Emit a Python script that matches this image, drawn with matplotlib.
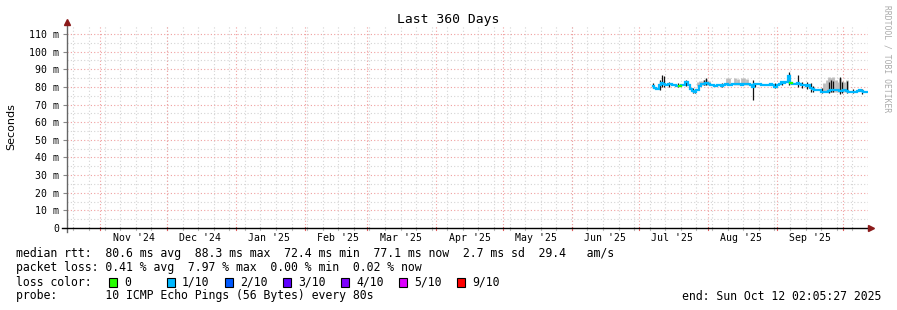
import numpy as np
import matplotlib
matplotlib.use("Agg")
from matplotlib import pyplot as plt
from matplotlib.lines import Line2D
from matplotlib.patches import Rectangle
import matplotlib.dates as mdates
from datetime import datetime, timedelta

# time window of the graph
t_start = datetime(2024, 10, 17, 2, 5, 27)
t_end = datetime(2025, 10, 12, 2, 5, 27)
data_start = datetime(2025, 7, 7, 12, 0)

# daily median rtt (ms)
median_ms = [80.5, 79.5, 79.0, 81.0, 82.0, 81.5, 81.0, 81.5, 81.5, 81.0,
             81.0, 80.5, 80.5, 81.0, 81.0, 83.0, 81.0, 79.0, 77.5, 77.0,
             78.0, 80.5, 81.5, 81.5, 82.0, 81.5, 81.0, 81.0, 80.5, 81.0,
             81.0, 80.5, 81.0, 81.5, 81.0, 81.0, 81.5, 81.5, 81.5, 81.5,
             81.0, 81.5, 81.5, 81.5, 81.0, 80.0, 81.5, 81.5, 81.5, 81.0,
             81.0, 81.0, 81.0, 81.5, 81.0, 80.0, 81.0, 81.5, 82.5, 82.0,
             83.0, 86.0, 82.0, 81.5, 81.5, 82.0, 81.5, 81.0, 81.0, 80.5,
             81.0, 79.5, 79.0, 78.5, 78.0, 78.0, 77.0, 77.0, 77.0, 77.5,
             78.0, 78.0, 78.5, 78.0, 77.5, 77.5, 78.0, 77.5, 77.0, 77.0,
             77.0, 77.0, 77.5, 78.5, 77.5, 77.0, 77.1]
# days with zero loss (green median)
zero_loss_days = [12, 62]

# dark smoke spikes: day index, low, high (ms)
spike_day = [0, 3, 4, 5, 7, 11, 15, 18, 19, 23, 24, 31, 45, 46, 55, 58, 61,
             65, 67, 69, 71, 72, 76, 79, 80, 81, 84, 85, 87, 90, 94]
spike_lo = [79.5, 78.0, 80.0, 80.0, 80.0, 80.0, 80.5, 76.5, 76.5, 81.0, 81.0,
            80.0, 72.4, 80.0, 79.5, 81.0, 81.0, 80.0, 79.5, 79.0, 77.0, 77.0,
            76.5, 76.5, 77.0, 77.0, 76.0, 76.5, 76.5, 76.5, 76.0]
spike_hi = [82.0, 84.0, 87.0, 86.0, 82.5, 82.0, 84.0, 79.5, 78.5, 84.0, 85.0,
            82.0, 84.0, 82.0, 82.0, 83.0, 88.3, 86.5, 83.0, 82.5, 82.0, 80.5,
            79.5, 83.0, 84.0, 83.5, 85.6, 82.5, 83.5, 79.0, 79.0]

# light smoke: day index, low, high (ms)
smoke_day = [20, 21, 22, 23, 24, 25, 33, 34, 37, 38, 40, 41, 42,
             77, 78, 79, 80, 81, 82, 83, 84, 85, 86, 87]
smoke_lo = [80.5, 80.5, 81.0, 81.0, 81.0, 81.0, 81.0, 81.0, 81.0, 81.0, 81.0,
            81.0, 81.0, 77.0, 77.0, 77.0, 77.0, 77.0, 77.0, 77.0, 77.0, 77.0,
            77.0, 77.0]
smoke_hi = [83.0, 83.5, 83.5, 84.0, 84.5, 83.5, 85.0, 85.0, 85.0, 84.5, 85.0,
            85.0, 84.5, 82.0, 84.0, 85.5, 85.0, 85.5, 84.0, 83.0, 85.0, 83.5,
            83.0, 84.0]

loss_labels = ["0", "1/10", "2/10", "3/10", "4/10", "5/10", "9/10"]
loss_colors = ["#26ff00", "#00b8ff", "#0059ff", "#5e00ff", "#7e00ff",
               "#dd00ff", "#ff0000"]

W, H = 897, 310
mono = "DejaVu Sans Mono"


def fx(px):
    return px / W


def fy(py):
    return 1 - py / H


fig = plt.figure(figsize=(8.97, 3.10), dpi=100)
ax = fig.add_axes([fx(67), fy(228), (868 - 67) / W, (228 - 26) / H])

days = [data_start + timedelta(days=i) for i in range(len(median_ms))]
x = mdates.date2num(days)
ymax = 114.5

# grid
month_starts = [datetime(2024, m, 1) for m in (11, 12)] + \
               [datetime(2025, m, 1) for m in range(1, 11)]
weeks = []
d = datetime(2024, 10, 20)
while d < t_end:
    weeks.append(d)
    d += timedelta(days=7)
for w in weeks:
    ax.axvline(w, color="#d4d4d4", lw=0.8, ls=(0, (1, 2)), zorder=0)
for yv in np.arange(5, 115, 10):
    ax.axhline(yv, color="#d4d4d4", lw=0.8, ls=(0, (1, 2)), zorder=0)
for m in month_starts:
    ax.axvline(m, color="#f0a0a0", lw=0.8, ls=(0, (1, 2)), zorder=0.5)
for yv in np.arange(10, 115, 10):
    ax.axhline(yv, color="#f0a0a0", lw=0.8, ls=(0, (1, 2)), zorder=0.5)

# smoke and median
ax.vlines(x[smoke_day], smoke_lo, smoke_hi, color="#bdbdbd", lw=2.0, zorder=2)
ax.vlines(x[spike_day], spike_lo, spike_hi, color="#111111", lw=0.9, zorder=3)
ax.plot(x, median_ms, color=loss_colors[1], lw=1.6, drawstyle="steps-mid",
        zorder=4, solid_joinstyle="miter")
for i in zero_loss_days:
    ax.plot([x[i] - 0.5, x[i] + 0.5], [median_ms[i]] * 2,
            color=loss_colors[0], lw=1.6, zorder=5)

ax.set_xlim(t_start, t_end)
ax.set_ylim(0, ymax)
for s in ax.spines.values():
    s.set_visible(False)

yt = np.arange(0, 111, 10)
ax.set_yticks(yt)
ax.set_yticklabels(["0"] + ["%d m" % v for v in yt[1:]], fontfamily=mono,
                   fontsize=7.1)
ax.tick_params(axis="y", length=3, width=0.8, color="#888888", pad=2.5)
ax.set_xticks([])

# month labels centred on the 16th
for m in month_starts[:-1]:
    mid = m.replace(day=16)
    ax.text(mid, -0.048, m.strftime("%b '%y"), transform=ax.get_xaxis_transform(),
            ha="center", va="center", fontfamily=mono, fontsize=7.1)

# axis lines with small ticks
fig.add_artist(Line2D([fx(67), fx(67)], [fy(232), fy(24)], color="#666666",
                      lw=1.0))
fig.add_artist(Line2D([fx(62), fx(870)], [fy(228), fy(228)], color="black",
                      lw=1.0))
for w in weeks:
    ax.plot([w, w], [-1.2, 0.8], color="#bbbbbb", lw=0.8, clip_on=False)
for m in month_starts:
    ax.plot([m, m], [-1.2, 0.8], color="#e06060", lw=0.8, clip_on=False)
fig.add_artist(Line2D([fx(67)], [fy(22)], marker="^", markersize=4.5,
                      color="#8b1a1a", lw=0))
fig.add_artist(Line2D([fx(871)], [fy(228)], marker=">", markersize=4.5,
                      color="#8b1a1a", lw=0))

fig.text(fx(448), fy(19), "Last 360 Days", ha="center", va="center",
         fontfamily=mono, fontsize=9.4)
fig.text(fx(11), fy(127), "Seconds", rotation=90, ha="center", va="center",
         fontfamily="DejaVu Sans", fontsize=8)
fig.text(fx(887), fy(5), "RRDTOOL / TOBI OETIKER", rotation=270, ha="center",
         va="top", fontfamily=mono, fontsize=5.8, color="#aaaaaa")

# legend block
lfs = 8.3
fig.text(fx(16), fy(254), "median rtt:  80.6 ms avg  88.3 ms max  72.4 ms min  "
         "77.1 ms now  2.7 ms sd  29.4   am/s", ha="left", va="center",
         fontfamily=mono, fontsize=lfs)
fig.text(fx(16), fy(268), "packet loss: 0.41 % avg  7.97 % max  0.00 % min  "
         "0.02 % now", ha="left", va="center", fontfamily=mono, fontsize=lfs)
fig.text(fx(16), fy(282), "loss color:", ha="left", va="center",
         fontfamily=mono, fontsize=lfs)
for k, (lab, col) in enumerate(zip(loss_labels, loss_colors)):
    sx = 109 + 58 * k
    fig.add_artist(Rectangle((fx(sx), fy(286.5)), 8 / W, 9 / H,
                             facecolor=col, edgecolor="black", lw=0.8))
    fig.text(fx(sx + 15), fy(282), lab, ha="left", va="center",
             fontfamily=mono, fontsize=lfs)
fig.text(fx(16), fy(296), "probe:       10 ICMP Echo Pings (56 Bytes) every 80s",
         ha="left", va="center", fontfamily=mono, fontsize=lfs)
fig.text(fx(881), fy(296), "end: Sun Oct 12 02:05:27 2025", ha="right",
         va="center", fontfamily=mono, fontsize=lfs)

fig.savefig("out.png", dpi=100)
